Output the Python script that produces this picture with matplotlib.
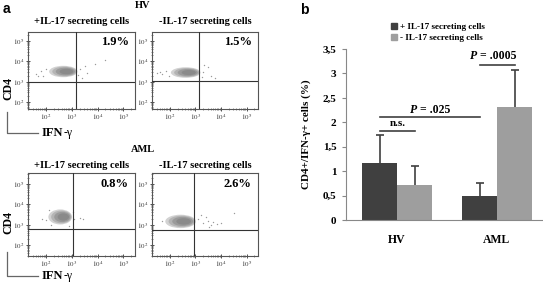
import matplotlib
matplotlib.use("Agg")
import matplotlib.pyplot as plt
from matplotlib.patches import Ellipse
from matplotlib.lines import Line2D
import numpy as np

plt.rcParams['font.family'] = ['Liberation Serif', 'DejaVu Serif']
plt.rcParams['mathtext.fontset'] = 'stix'

# ---------------- data ----------------
groups = ["HV", "AML"]
series_labels = ["+ IL-17 secreting cells", "- IL-17 secreting cells"]
pos_means = [1.16, 0.49]
pos_err = [0.57, 0.26]
neg_means = [0.71, 2.31]
neg_err = [0.39, 0.77]
yticks_b = [0, 0.5, 1, 1.5, 2, 2.5, 3, 3.5]
ytick_labels_b = ["0", "0,5", "1", "1,5", "2", "2,5", "3", "3,5"]

flow_titles = ["+IL-17 secreting cells", "-IL-17 secreting cells"]
flow_groups = ["HV", "AML"]
flow_pct = ["1.9%", "1.5%", "0.8%", "2.6%"]
gate_x = [3.17, 3.14, 3.06, 2.96]      # log10 IFN-γ gate
gate_y = [3.0, 3.05, 2.79, 2.72]       # log10 CD4 gate
cloud_cx = [2.67, 2.62, 2.55, 2.42]
cloud_cy = [3.50, 3.45, 3.38, 3.16]
cloud_wx = [0.55, 0.58, 0.46, 0.60]
cloud_wy = [0.28, 0.26, 0.37, 0.33]
outliers = [
    [(1.6, 3.4), (1.8, 3.55), (1.9, 3.3), (3.3, 3.6), (3.5, 3.75), (3.6, 3.45),
     (3.9, 3.85), (4.3, 4.05), (3.4, 3.2), (2.0, 3.62), (1.7, 3.3), (3.25, 3.35)],
    [(1.5, 3.45), (1.7, 3.4), (1.85, 3.55), (3.3, 3.5), (3.5, 3.7), (3.6, 3.3),
     (3.75, 3.2), (3.35, 3.8), (1.95, 3.3), (1.6, 3.5), (3.25, 3.25)],
    [(1.85, 3.3), (2.0, 3.22), (3.1, 3.3), (3.3, 3.35), (3.45, 3.3), (2.2, 3.0),
     (3.05, 3.62), (2.1, 3.7), (2.9, 2.95)],
    [(3.1, 3.3), (3.3, 3.1), (3.5, 3.2), (3.6, 3.0), (3.7, 3.15), (3.4, 3.4),
     (4.5, 3.55), (1.7, 3.2), (3.85, 3.05), (3.2, 3.5), (4.0, 3.1), (3.55, 2.9)],
]
flow_ticks = [2, 3, 4, 5]
flow_ticklabels = [r"$10^{2}$", r"$10^{3}$", r"$10^{4}$", r"$10^{5}$"]

# ---------------- figure ----------------
W, H = 543, 283
fig = plt.figure(figsize=(W / 100, H / 100), dpi=100)


def rect(x0, y0, x1, y1):
    return [x0 / W, 1 - y1 / H, (x1 - x0) / W, (y1 - y0) / H]


# overlay in pixel coordinates for free text / arrows
ov = fig.add_axes([0, 0, 1, 1])
ov.set_xlim(0, W)
ov.set_ylim(H, 0)
ov.axis("off")

boxes = [(28, 32, 135, 109), (152, 32, 258, 109), (28, 173, 135, 256), (152, 173, 258, 256)]
ylims = [(1.66, 5.44), (1.66, 5.44), (1.46, 5.54), (1.46, 5.54)]
minor = [d + np.log10(k) for d in range(1, 6) for k in range(2, 10)]
layers = [(1.0, "#d2d2d2"), (0.85, "#b4b4b4"), (0.68, "#9a9a9a"), (0.48, "#8a8a8a")]

for i, b in enumerate(boxes):
    ax = fig.add_axes(rect(*b))
    ax.set_xlim(1.3, 5.45)
    ax.set_ylim(*ylims[i])
    for s in ax.spines.values():
        s.set_color("#555555")
        s.set_linewidth(0.8)
    ax.set_xticks(flow_ticks)
    ax.set_xticklabels(flow_ticklabels, fontsize=5)
    ax.set_yticks(flow_ticks)
    ax.set_yticklabels(flow_ticklabels, fontsize=5)
    ax.set_xticks([m for m in minor if 1.3 < m < 5.45], minor=True)
    ax.set_yticks([m for m in minor if ylims[i][0] < m < ylims[i][1]], minor=True)
    ax.tick_params(which="major", direction="inout", length=3, width=0.6, pad=1.0, colors="#333333")
    ax.tick_params(which="minor", direction="inout", length=1.6, width=0.4, colors="#333333")
    ax.tick_params(top=False, right=False)
    for k, (f, c) in enumerate(layers):
        ax.add_patch(Ellipse((cloud_cx[i] + 0.04 * k, cloud_cy[i]), 2 * f * cloud_wx[i],
                             2 * f * cloud_wy[i], facecolor=c, edgecolor="none", zorder=1 + k * 0.1))
    ox = [p[0] for p in outliers[i]]
    oy = [p[1] for p in outliers[i]]
    ax.scatter(ox, oy, s=1.0, color="#9a9a9a", linewidths=0, zorder=2)
    ax.axvline(gate_x[i], color="#333333", lw=0.8, zorder=3)
    ax.axhline(gate_y[i], color="#333333", lw=0.8, zorder=3)
    ax.text(0.94, 0.865, flow_pct[i], transform=ax.transAxes, ha="right", va="center",
            fontsize=9, fontweight="bold")

# panel a texts
ov.text(3, 9, "a", fontsize=10, fontweight="bold", family="Liberation Sans", va="center", ha="left")
for gi, (gy, sy) in enumerate([(6, 22), (150, 165)]):
    ov.text(143, gy, flow_groups[gi], fontsize=7.5, fontweight="bold", ha="center", va="center")
    ov.text(82, sy, flow_titles[0], fontsize=7.5, fontweight="bold", ha="center", va="center")
    ov.text(205, sy, flow_titles[1], fontsize=7.5, fontweight="bold", ha="center", va="center")

for (cy, ly0, ly1) in [(88, 112, 133), (222, 252, 276)]:
    ov.text(8, cy, "CD4", rotation=90, fontsize=8.5, fontweight="bold", ha="center", va="center")
    ov.plot([7, 7, 38], [ly0, ly1, ly1], color="#666666", lw=0.9)
    t1 = ov.text(42, ly1, "IFN", fontsize=9, fontweight="bold", ha="left", va="center")
    ov.annotate("-γ", xy=(1, 0.5), xycoords=t1, fontsize=8.5, ha="left", va="center")

# ---------------- panel b ----------------
axb = fig.add_axes(rect(346, 49, 543, 220))
x = np.arange(len(groups))
bw = 0.35
dark, light = "#404040", "#9e9e9e"
ecol = "#404040"
xp = x - bw / 2
xn = x + bw / 2
axb.bar(xp, pos_means, bw, color=dark, zorder=2)
axb.bar(xn, neg_means, bw, color=light, zorder=2)
for xs, m, e in [(xp, pos_means, pos_err), (xn, neg_means, neg_err)]:
    axb.errorbar(xs, m, yerr=[np.zeros(len(m)), e], fmt="none", ecolor=ecol, elinewidth=1.2,
                 capsize=0, zorder=3)
    axb.scatter(xs, np.array(m) + np.array(e), marker="_", s=28, color=ecol, linewidths=1.2, zorder=3)
axb.set_xlim(-0.51, 1.46)
axb.set_ylim(0, 3.5)
axb.spines["top"].set_visible(False)
axb.spines["right"].set_visible(False)
axb.spines["left"].set_color("#888888")
axb.spines["bottom"].set_color("#888888")
axb.set_yticks(yticks_b)
axb.set_yticklabels(ytick_labels_b, fontsize=8, fontweight="bold")
axb.set_xticks(x)
axb.set_xticklabels(groups, fontsize=8.5, fontweight="bold")
axb.tick_params(axis="x", length=0, pad=10)
axb.tick_params(axis="y", length=3, color="#888888", pad=4)
axb.set_ylabel("CD4+/IFN-γ+ cells (%)", fontsize=8, fontweight="bold")
axb.yaxis.set_label_coords(-0.18, 0.5)

# significance brackets (between bar centres)
brackets = [(-bw / 2, bw / 2, 1.82), (-bw / 2, 1 - bw / 2, 2.11), (1 - bw / 2, 1 + bw / 2, 3.17)]
for (x0, x1, yb) in brackets:
    axb.plot([x0, x1], [yb, yb], color="#404040", lw=1.2, clip_on=False)
axb.text(0.01, 1.97, "n.s.", fontsize=8, fontweight="bold", ha="center", va="center")
for (px, py, rest) in [(0.20, 2.25, " = .025"), (0.80, 3.35, " = .0005")]:
    tp = axb.text(px, py, "P", fontsize=8.5, fontweight="bold", fontstyle="italic", ha="right", va="center")
    axb.annotate(rest, xy=(1, 0.5), xycoords=tp, fontsize=8.5, fontweight="bold", ha="left", va="center")

handles = [Line2D([], [], marker="s", ls="", color=dark, markersize=3.8),
           Line2D([], [], marker="s", ls="", color=light, markersize=3.8)]
fig.legend(handles, series_labels, loc="upper left", bbox_to_anchor=(386 / W, 1 - 18 / H),
           frameon=False, handlelength=0.8, handletextpad=0.25, labelspacing=0.3,
           borderpad=0, prop=dict(weight="bold", size=6.6))

ov.text(300, 10, "b", fontsize=10, fontweight="bold", family="Liberation Sans", va="center", ha="left")

fig.savefig("out.png", dpi=100)
